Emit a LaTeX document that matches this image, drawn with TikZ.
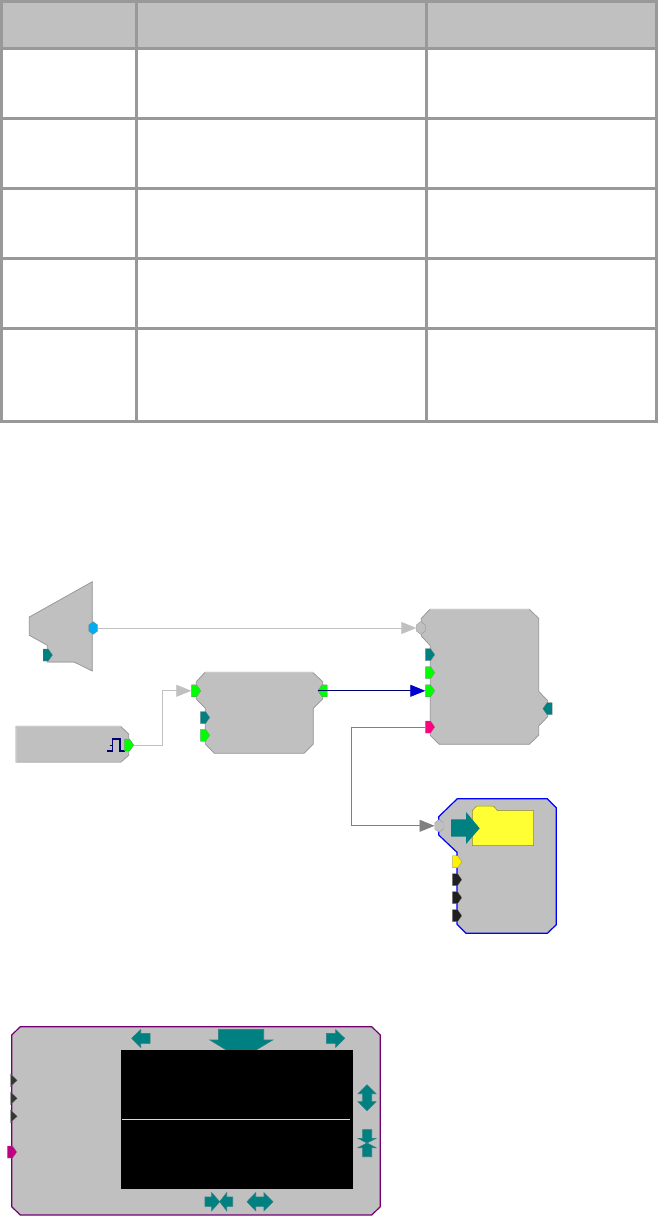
\documentclass[tikz,border=0pt]{standalone}
\usepackage{tikz}
\usetikzlibrary{arrows.meta,shapes.symbols,shapes.geometric}
\definecolor{hdrgray}{HTML}{C0C0C0}
\definecolor{gridgray}{HTML}{999999}
\definecolor{hotpink}{HTML}{FF0080}
\definecolor{deeppink}{HTML}{C00080}
\definecolor{folderyellow}{HTML}{FFFF33}
\definecolor{darkport}{HTML}{202020}
\definecolor{navyline}{HTML}{000070}
\begin{document}
\begin{tikzpicture}[
    x=1pt, y=-1pt,
    grid/.style={draw=gridgray, line width=3pt},
    blk/.style={draw=gray!85, line width=0.7pt, fill=hdrgray},
    lit/.style={draw=hdrgray!85!white, line width=0.8pt},
    port/.style={signal, signal to=east, signal pointer angle=110, anchor=west, minimum width=9.4pt, minimum height=12pt, inner sep=0pt, draw=gray, line width=0.2pt},
    outport/.style={port, signal to=west, anchor=east},
    dualport/.style={regular polygon, regular polygon sides=6, shape border rotate=30, minimum size=12.6pt, inner sep=0pt, xscale=0.8, transform shape, draw=gray, line width=0.2pt},
    tri/.style={isosceles triangle, isosceles triangle stretches, minimum height=6.7pt, minimum width=12.7pt, inner sep=0pt, fill=darkport!90!white, draw=gray, line width=0.2pt},
    btn/.style={draw=teal!70!gray, line width=0.6pt, fill=teal},
    wire/.style={line width=0.8pt, draw=#1, -{Triangle[length=15pt, width=12pt, fill=#1, color=#1]}}
  ]
  \useasboundingbox (0,0) rectangle (658,1216);

  \fill[hdrgray] (1.5,1.5) rectangle (656.5,48.5);
  \draw[grid] (1.5,1.5) rectangle (656.5,421.5);
  \draw[grid] (1.5,48.5) -- (656.5,48.5);
  \draw[grid] (1.5,118.5) -- (656.5,118.5);
  \draw[grid] (1.5,188.5) -- (656.5,188.5);
  \draw[grid] (1.5,258.5) -- (656.5,258.5);
  \draw[grid] (1.5,328.5) -- (656.5,328.5);
  \draw[grid] (136.5,1.5) -- (136.5,421.5);
  \draw[grid] (426.5,1.5) -- (426.5,421.5);

  \draw[blk] (92.3,581.7) -- (92.3,671) -- (74,662) -- (47.3,662) -- (47.3,645.3) -- (29.3,635.3) -- (29.3,617) -- cycle;
  \draw[lit] (47.3,662) -- (74,662);
  \draw[blk] (16,726.3) -- (120.7,726.3) -- (128.7,734) -- (128.7,755.3) -- (120.7,762.3) -- (16,762.3) -- cycle;
  \draw[lit] (16,762.3) -- (16,726.3) -- (120.7,726.3);
  \draw[lit] (16,762.3) -- (120.7,762.3);
  \draw[blk] (205,672.3) -- (312.7,672.3) -- (322.7,681.7) -- (322.7,699) -- (313.3,708.3) -- (313.3,744) -- (304,753.3) -- (214.3,753.3) -- (205.3,744) -- (205.3,708.3) -- (196.3,699) -- (196.3,681.7) -- cycle;
  \draw[lit] (205,672.3) -- (312.7,672.3);
  \draw[blk] (430,609.3) -- (529.3,609.3) -- (538.7,618.3) -- (538.7,691.3) -- (547.7,700.7) -- (547.7,716.7) -- (538.7,726) -- (538.7,735.3) -- (529.3,744.3) -- (439.3,744.3) -- (430.3,735.3) -- (430.3,645.7) -- (421.3,636) -- (421.3,618.3) -- cycle;
  \draw[lit] (430,609.3) -- (529.3,609.3);
  \draw[blk, draw=blue, line width=1.2pt] (457.3,798.7) -- (547.3,798.7) -- (556.3,807.7) -- (556.3,924.7) -- (547.3,933.3) -- (466,933.3) -- (457,924.3) -- (457,852.3) -- (438.7,835) -- (438.7,816.7) -- cycle;
  \draw[blk, draw=violet!90!black, line width=1.2pt] (20.3,1026.7) -- (371.7,1026.7) -- (380.3,1035) -- (380.3,1206.7) -- (371.7,1215) -- (20.3,1215) -- (11.7,1206.7) -- (11.7,1035) -- cycle;

  \draw[navyline, line width=1.1pt] (107.3,751) -- (112.3,751) -- (112.3,739) -- (120,739) -- (120,751) -- (124.7,751);
  \draw[navyline, line width=0.8pt] (109.7,745) -- (112.3,745);

  \draw[draw=olive!70!gray, fill=folderyellow, line width=0.5pt] (472.3,845.7) -- (472.3,810.7) -- (476.7,806) -- (493.3,806) -- (497.7,810.7) -- (533.7,810.7) -- (533.7,845.7) -- cycle;
  \fill[teal] (451,819.3) -- (466,819.3) -- (466,812) -- (479.7,828.3) -- (466,844) -- (466,836.7) -- (451,836.7) -- cycle;

  \node[dualport, fill=cyan] (lutout) at (93.2,628) {};
  \node[port, fill=teal] (lutctl) at (43,655) {};
  \node[port, fill=green] (pulseout) at (124.3,745) {};
  \node[port, fill=green] (gatein) at (191.3,690.8) {};
  \node[port, fill=teal] (gatea) at (200.3,717.5) {};
  \node[port, fill=green] (gateb) at (200.3,735.3) {};
  \node[outport, fill=green] (gateout) at (327.3,690.8) {};
  \node[dualport, fill=hdrgray] (mixin) at (420.8,628) {};
  \node[port, fill=teal] (mixa) at (425.3,654.7) {};
  \node[port, fill=green] (mixb) at (425.3,672.7) {};
  \node[port, fill=green] (mixc) at (425.3,690.8) {};
  \node[port, fill=hotpink] (mixd) at (425.3,727) {};
  \node[outport, fill=teal] (mixout) at (552.3,708.7) {};
  \node[dualport, fill=hdrgray] (filein) at (439,825.8) {};
  \node[port, fill=yellow] (filea) at (452.3,861.8) {};
  \node[port, fill=darkport] (fileb) at (452.3,879.6) {};
  \node[port, fill=darkport] (filec) at (452.3,897.7) {};
  \node[port, fill=darkport] (filed) at (452.3,915.7) {};
  \node[tri] (scopea) at (13.3,1080.3) {};
  \node[tri] (scopeb) at (13.3,1098.3) {};
  \node[tri] (scopec) at (13.3,1116.3) {};
  \node[port, fill=deeppink] (scoped) at (7.3,1152) {};

  \coordinate (kink) at (162.5,720);
  \coordinate (bend) at (351.5,780);
  \draw[wire=hdrgray] (lutout.east) -- (mixin.west);
  \draw[wire=hdrgray] (pulseout.east) -| (kink) |- (gatein.west);
  \draw[line width=0.8pt, draw=navyline, -{Triangle[length=15pt, width=12pt, color=blue!80!black]}] (gateout.west) -- (mixc.west);
  \draw[wire=gray] (mixd.west) -| (bend) |- (filein.west);

  \draw[btn] (218.3,1029.3) -- (263.7,1029.3) -- (263.7,1040) -- (272.7,1040) -- (241,1059) -- (210,1040) -- (218.3,1040) -- cycle;
  \fill[black] (121,1050) rectangle (353,1188.7);
  \draw[yellow, line width=0.7pt] (122,1119.3) -- (350,1119.3);

  \draw[btn] (131.7,1038.3) -- (140.7,1029.7) -- (140.7,1033.3) -- (150,1033.3) -- (150,1043.3) -- (140.7,1043.3) -- (140.7,1047.3) -- cycle;
  \draw[btn] (344.7,1038.3) -- (335.7,1029.7) -- (335.7,1033.3) -- (326.3,1033.3) -- (326.3,1043.3) -- (335.7,1043.3) -- (335.7,1047.3) -- cycle;
  \draw[btn] (367,1084.7) -- (376,1093.7) -- (371.7,1093.7) -- (371.7,1101.7) -- (376,1101.7) -- (367,1110.7) -- (358,1101.7) -- (362.7,1101.7) -- (362.7,1093.7) -- (358,1093.7) -- cycle;
  \draw[btn] (362.7,1129.7) -- (371.7,1129.7) -- (371.7,1138.3) -- (376,1138.3) -- (367,1143) -- (358,1138.3) -- (362.7,1138.3) -- cycle;
  \draw[btn] (362.7,1156.7) -- (371.7,1156.7) -- (371.7,1147.7) -- (376,1147.7) -- (367,1143) -- (358,1147.7) -- (362.7,1147.7) -- cycle;
  \draw[btn] (205,1197) -- (211.7,1197) -- (211.7,1192.7) -- (219.7,1201.7) -- (211.7,1210.7) -- (211.7,1206.4) -- (205,1206.4) -- cycle;
  \draw[btn] (232.7,1197) -- (226.7,1197) -- (226.7,1192.7) -- (219.7,1201.7) -- (226.7,1210.7) -- (226.7,1206.4) -- (232.7,1206.4) -- cycle;
  \draw[btn] (247,1201.7) -- (255.7,1192.7) -- (255.7,1197) -- (264,1197) -- (264,1192.7) -- (273,1201.7) -- (264,1210.7) -- (264,1206.4) -- (255.7,1206.4) -- (255.7,1210.7) -- cycle;
\end{tikzpicture}
\end{document}
